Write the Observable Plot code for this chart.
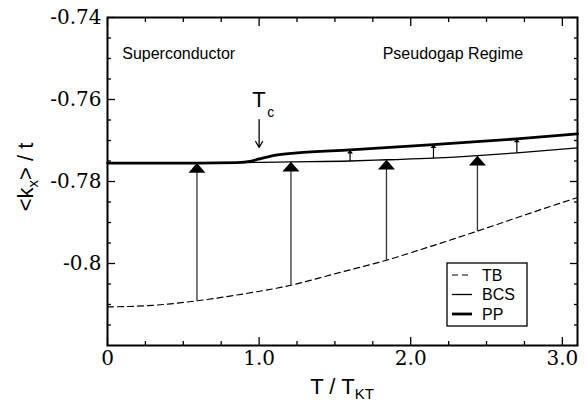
<!DOCTYPE html>
<html><head><meta charset="utf-8">
<script src="https://cdn.jsdelivr.net/npm/d3@7"></script>
<script src="https://cdn.jsdelivr.net/npm/@observablehq/plot@0.6"></script>
<style>body{margin:0;background:#fff} #chart{width:587px;height:405px}</style>
</head><body><div id="chart"></div>
<script>
// ---- data ----
const tbX  = [0, 0.3, 0.59, 0.9, 1.21, 1.5, 1.84, 2.1, 2.44, 2.75, 3.1];
const tbY  = [-0.8106, -0.8102, -0.8091, -0.8074, -0.8053, -0.8025, -0.7992, -0.7962, -0.7921, -0.7882, -0.7839];
const bcsX = [0, 0.59, 1.21, 1.6, 1.84, 2.15, 2.44, 2.7, 3.1];
const bcsY = [-0.7755, -0.7755, -0.7752, -0.7750, -0.7747, -0.7743, -0.7737, -0.7730, -0.7718];
const ppX  = [0, 0.6, 0.85, 0.95, 1.0, 1.1, 1.25, 1.6, 2.15, 2.7, 3.1];
const ppY  = [-0.7755, -0.7755, -0.7754, -0.7750, -0.7745, -0.7736, -0.7730, -0.7723, -0.7710, -0.7696, -0.7684];

const bigArrowX    = [0.59, 1.21, 1.84, 2.44];
const bigArrowFrom = [-0.8091, -0.8053, -0.7992, -0.7921];
const bigArrowTo   = [-0.7755, -0.7752, -0.7747, -0.7737];
const smallArrowX    = [1.6, 2.15, 2.7];
const smallArrowFrom = [-0.7750, -0.7743, -0.7730];
const smallArrowTo   = [-0.7723, -0.7710, -0.7696];

const tcArrowX = [1.0];
const tcArrowFrom = [-0.7649];
const tcArrowTo = [-0.7717];

const xMajor = [0, 1, 2, 3];
const xTickLabels = ["0", "1.0", "2.0", "3.0"];
const xMinor = [0.25, 0.5, 0.75, 1.25, 1.5, 1.75, 2.25, 2.5, 2.75];
const yMajor = [-0.8, -0.78, -0.76, -0.74];
const yTickLabels = ["-0.8", "-0.78", "-0.76", "-0.74"];
const yMinor = [-0.815, -0.81, -0.805, -0.795, -0.79, -0.785, -0.775, -0.77, -0.765, -0.755, -0.75, -0.745];

const annLabels = ["Superconductor", "Pseudogap Regime"];
const annX = [0.097, 2.742];
const annY = [-0.7500, -0.7500];
const annAnchor = ["start", "end"];

const legendNames = ["TB", "BCS", "PP"];
const legendDash = ["6,4", null, null];
const legendWidth = [1.2, 1.3, 2.8];

// ---- build tables ----
const zip = (xs, ys) => xs.map((x, i) => ({x, y: ys[i]}));
const tb = zip(tbX, tbY), bcs = zip(bcsX, bcsY), pp = zip(ppX, ppY);
const bigArrows = bigArrowX.map((x, i) => ({x, from: bigArrowFrom[i], to: bigArrowTo[i]}));
const smallArrows = smallArrowX.map((x, i) => ({x, from: smallArrowFrom[i], to: smallArrowTo[i]}));
const tcArrow = tcArrowX.map((x, i) => ({x, from: tcArrowFrom[i], to: tcArrowTo[i]}));

const sans = "'Liberation Sans', Arial, Helvetica, sans-serif";
const serif = "'DejaVu Serif', 'Liberation Serif', serif";

const triangle = {draw(ctx, size) {
  const r = Math.sqrt(size / Math.PI);
  ctx.moveTo(0, 0); ctx.lineTo(r, r * 1.15); ctx.lineTo(-r, r * 1.15); ctx.closePath();
}};

const tickOpts = {fill: "none", label: null, strokeWidth: 1.3};

const annMarks = annLabels.map((t, i) =>
  Plot.text([t], {x: annX[i], y: annY[i], text: d => d, textAnchor: annAnchor[i], lineAnchor: "bottom", fontSize: 16}));

const svg = Plot.plot({
  width: 587, height: 405,
  marginLeft: 107, marginRight: 10, marginTop: 17, marginBottom: 60,
  x: {domain: [0, 3.1], label: null},
  y: {domain: [-0.82, -0.74], label: null},
  style: {fontFamily: sans, background: "white", color: "black", overflow: "visible"},
  marks: [
    // inward ticks on all four sides
    Plot.axisX(xMajor, {anchor: "bottom", tickSize: 8, dy: -8, ...tickOpts}),
    Plot.axisX(xMinor, {anchor: "bottom", tickSize: 4, dy: -4, ...tickOpts}),
    Plot.axisX(xMajor, {anchor: "top", tickSize: 8, dy: 8, ...tickOpts}),
    Plot.axisX(xMinor, {anchor: "top", tickSize: 4, dy: 4, ...tickOpts}),
    Plot.axisY(yMajor, {anchor: "left", tickSize: 8, dx: 8, ...tickOpts}),
    Plot.axisY(yMinor, {anchor: "left", tickSize: 4, dx: 4, ...tickOpts}),
    Plot.axisY(yMajor, {anchor: "right", tickSize: 8, dx: -8, ...tickOpts}),
    Plot.axisY(yMinor, {anchor: "right", tickSize: 4, dx: -4, ...tickOpts}),
    // tick labels
    Plot.axisX(xMajor, {anchor: "bottom", tickSize: 0, tickPadding: 5, label: null,
      tickFormat: d => xTickLabels[xMajor.indexOf(d)], fontSize: 20, fontFamily: serif}),
    Plot.axisY(yMajor, {anchor: "left", tickSize: 0, tickPadding: 6, label: null,
      tickFormat: d => yTickLabels[yMajor.indexOf(d)], fontSize: 20, fontFamily: serif}),
    // curves
    Plot.line(tb, {x: "x", y: "y", strokeWidth: 1.2, strokeDasharray: "6,4", curve: "monotone-x"}),
    Plot.line(bcs, {x: "x", y: "y", strokeWidth: 1.3, curve: "monotone-x"}),
    Plot.line(pp, {x: "x", y: "y", strokeWidth: 2.8, curve: "monotone-x"}),
    // arrows TB -> BCS
    Plot.link(bigArrows, {x1: "x", x2: "x", y1: "from", y2: "to", stroke: "#333", strokeWidth: 1.3}),
    Plot.dot(bigArrows, {x: "x", y: "to", symbol: triangle, r: 8.5, fill: "black", stroke: null}),
    // arrows BCS -> PP
    Plot.link(smallArrows, {x1: "x", x2: "x", y1: "from", y2: "to", stroke: "black", strokeWidth: 1.2}),
    Plot.dot(smallArrows, {x: "x", y: "to", symbol: triangle, r: 3, fill: "black", stroke: null}),
    // Tc arrow
    Plot.arrow(tcArrow, {x1: "x", x2: "x", y1: "from", y2: "to", strokeWidth: 1.3, headLength: 8}),
    Plot.text(["T"], {x: 0.954, y: -0.7618, text: d => d, textAnchor: "start", lineAnchor: "bottom", fontSize: 22}),
    Plot.text(["c"], {x: 1.053, y: -0.7643, text: d => d, textAnchor: "start", lineAnchor: "bottom", fontSize: 14}),
    // region labels
    ...annMarks,
    Plot.frame({strokeWidth: 2})
  ]
});
document.getElementById("chart").appendChild(svg);

const s = d3.select(svg);

// ---- axis titles with subscripts, and legend ----
const xl = s.append("text").attr("x", 342).attr("y", 394).attr("text-anchor", "middle")
  .attr("font-family", sans).attr("font-size", 22).attr("fill", "black");
xl.append("tspan").text("T / T");
xl.append("tspan").attr("baseline-shift", "-30%").attr("font-size", 15).text("KT");

const yl = s.append("text").attr("transform", "translate(33,177) rotate(-90)").attr("text-anchor", "middle")
  .attr("font-family", sans).attr("font-size", 22).attr("fill", "black");
yl.append("tspan").text("<k");
yl.append("tspan").attr("baseline-shift", "-30%").attr("font-size", 15).text("x");
yl.append("tspan").text("> / t");

const lg = s.append("g").attr("font-family", sans).attr("font-size", 16).attr("text-anchor", "start");
lg.append("rect").attr("x", 447).attr("y", 263).attr("width", 80).attr("height", 63)
  .attr("fill", "white").attr("stroke", "black").attr("stroke-width", 1.3);
legendNames.forEach((name, i) => {
  const cy = 275 + i * 19.5;
  lg.append("line").attr("x1", 452).attr("x2", 472).attr("y1", cy).attr("y2", cy)
    .attr("stroke", "black").attr("stroke-width", legendWidth[i])
    .attr("stroke-dasharray", legendDash[i]);
  lg.append("text").attr("x", 482).attr("y", cy + 5.8).attr("text-anchor", "start").attr("fill", "black").text(name);
});
</script>
</body></html>
